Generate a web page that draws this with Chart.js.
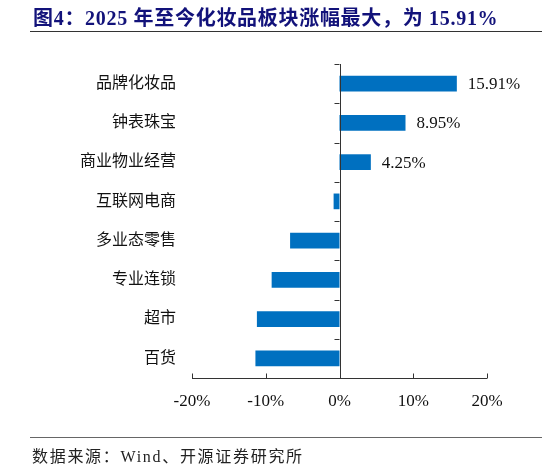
<!DOCTYPE html>
<html>
<head>
<meta charset="utf-8">
<script src="https://cdn.jsdelivr.net/npm/chart.js@4.4.1/dist/chart.umd.min.js"></script>
<style>
  body { margin: 0; background: #fff; }
  #wrap { position: relative; width: 546px; height: 467px; overflow: hidden; }
  #title {
    position: absolute; left: 33px; top: 2px;
    font: bold 20px "Liberation Serif", "Noto Sans CJK SC", serif;
    letter-spacing: 0.7px;
    color: #12127a; white-space: nowrap;
  }
  #rule1 { position: absolute; left: 30px; top: 31px; width: 512px; height: 0; border-top: 1.5px solid #333; }
  #rule2 { position: absolute; left: 30px; top: 437px; width: 512px; height: 0; border-top: 1.5px solid #666; }
  #source {
    position: absolute; left: 32px; top: 443px;
    font: 16px "Liberation Serif", "Noto Sans CJK SC", serif;
    letter-spacing: 1.7px;
    color: #222; white-space: nowrap;
  }
  canvas { position: absolute; left: 0; top: 0; }
</style>
</head>
<body>
<div id="wrap">
  <canvas id="chart" width="546" height="467"></canvas>
  <div id="title">图4：2025 年至今化妆品板块涨幅最大，为 15.91%</div>
  <div id="rule1"></div>
  <div id="rule2"></div>
  <div id="source">数据来源：Wind、开源证券研究所</div>
</div>
<script>
const categories = ['品牌化妆品', '钟表珠宝', '商业物业经营', '互联网电商', '多业态零售', '专业连锁', '超市', '百货'];
const changes = [15.91, 8.95, 4.25, -0.8, -6.7, -9.2, -11.2, -11.4];
const shownLabels = ['15.91%', '8.95%', '4.25%', '', '', '', '', ''];
const xTicks = [-20, -10, 0, 10, 20];

const serif = '"Liberation Serif", "Noto Sans CJK SC", serif';

// axis line at zero, tick marks between categories, inward x ticks, value labels
const axisPlugin = {
    id: 'axisPlugin',
    afterDatasetsDraw(chart) {
        const ctx = chart.ctx;
        const xs = chart.scales.x;
        const area = chart.chartArea;
        const x0 = xs.getPixelForValue(0);
        ctx.save();
        ctx.strokeStyle = '#333';
        ctx.lineWidth = 1;

        // zero axis
        ctx.beginPath();
        ctx.moveTo(Math.round(x0) + 0.5, area.top);
        ctx.lineTo(Math.round(x0) + 0.5, area.bottom);
        ctx.stroke();

        // category boundary ticks
        const step = (area.bottom - area.top) / categories.length;
        for (let i = 0; i < categories.length; i++) {
            const y = Math.round(area.top + i * step) + 0.5;
            ctx.beginPath();
            ctx.moveTo(x0 - 5, y);
            ctx.lineTo(x0, y);
            ctx.stroke();
        }

        // x axis line and inward ticks
        const yb = Math.round(area.bottom) + 0.5;
        ctx.beginPath();
        ctx.moveTo(xs.getPixelForValue(xTicks[0]), yb);
        ctx.lineTo(xs.getPixelForValue(xTicks[xTicks.length - 1]), yb);
        ctx.stroke();
        xTicks.forEach(v => {
            const x = Math.round(xs.getPixelForValue(v)) + 0.5;
            ctx.beginPath();
            ctx.moveTo(x, yb);
            ctx.lineTo(x, yb - 5);
            ctx.stroke();
        });

        // value labels
        ctx.fillStyle = '#111';
        ctx.font = '17px ' + serif;
        ctx.textAlign = 'left';
        ctx.textBaseline = 'middle';
        const meta = chart.getDatasetMeta(0);
        meta.data.forEach((bar, i) => {
            if (!shownLabels[i]) return;
            ctx.fillText(shownLabels[i], bar.x + 11, bar.y + 1);
        });
        ctx.restore();
    }
};

new Chart(document.getElementById('chart').getContext('2d'), {
    type: 'bar',
    data: {
        labels: categories,
        datasets: [{
            data: changes,
            backgroundColor: '#0070C0',
            categoryPercentage: 1,
            barPercentage: 0.4
        }]
    },
    options: {
        indexAxis: 'y',
        responsive: false,
        animation: false,
        layout: { padding: { left: 0, right: 59, top: 64, bottom: 0 } },
        plugins: { legend: { display: false }, tooltip: { enabled: false } },
        scales: {
            x: {
                min: -20,
                max: 20,
                afterBuildTicks: axis => { axis.ticks = xTicks.map(v => ({ value: v })); },
                afterFit: axis => { axis.height = 89; },
                grid: { display: false, drawTicks: false },
                border: { display: false },
                ticks: {
                    padding: 13,
                    color: '#111',
                    font: { family: serif, size: 17 },
                    callback: v => v + '%'
                }
            },
            y: {
                afterFit: axis => { axis.width = 192; },
                grid: { display: false, drawTicks: false },
                border: { display: false },
                ticks: {
                    padding: 16,
                    color: '#111',
                    font: { family: serif, size: 16 }
                }
            }
        }
    },
    plugins: [axisPlugin]
});
</script>
</body>
</html>
